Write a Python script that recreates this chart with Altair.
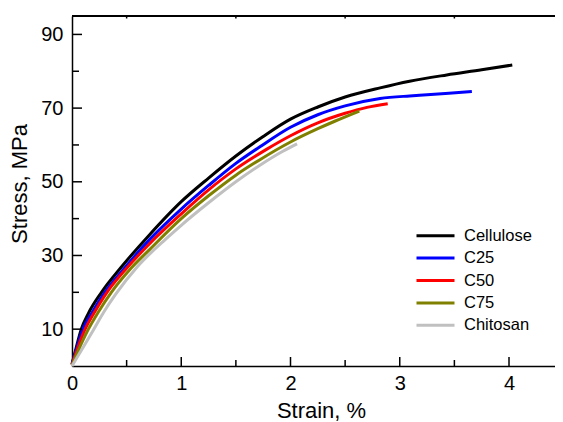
import altair as alt
import pandas as pd

series_names = ["Cellulose", "C25", "C50", "C75", "Chitosan"]
series_colors = ["#000000", "#0000ff", "#ff0000", "#808000", "#c0c0c0"]

cellulose_strain = [0.00, 0.03, 0.085, 0.15, 0.27, 0.45, 0.70, 1.00, 1.25, 1.50, 1.75, 2.00, 2.25, 2.50, 2.82, 3.09, 3.43, 3.75, 4.03]
cellulose_stress = [0.5, 4.0, 10.0, 14.3, 20.0, 26.8, 35.3, 44.6, 51.0, 57.0, 62.3, 67.0, 70.3, 73.0, 75.5, 77.3, 79.0, 80.4, 81.7]

c25_strain = [0.00, 0.025, 0.10, 0.18, 0.30, 0.47, 0.71, 1.00, 1.25, 1.50, 1.72, 2.00, 2.25, 2.50, 2.82, 3.09, 3.25, 3.45, 3.66]
c25_stress = [0.5, 3.0, 10.0, 14.3, 20.0, 26.2, 34.3, 42.6, 49.0, 55.0, 59.5, 64.8, 68.2, 70.6, 72.6, 73.3, 73.6, 74.0, 74.5]

c50_strain = [0.00, 0.03, 0.12, 0.20, 0.32, 0.49, 0.71, 1.00, 1.25, 1.50, 1.78, 2.00, 2.25, 2.50, 2.70, 2.89]
c50_stress = [0.3, 3.0, 10.0, 14.3, 20.0, 26.2, 33.2, 41.3, 47.8, 53.5, 58.8, 62.5, 66.0, 68.6, 70.2, 71.2]

c75_strain = [0.00, 0.04, 0.15, 0.24, 0.36, 0.53, 0.71, 1.00, 1.25, 1.50, 1.72, 2.00, 2.25, 2.41, 2.63]
c75_stress = [0.2, 3.0, 10.0, 14.6, 20.0, 26.2, 31.6, 40.0, 46.2, 51.8, 56.0, 60.8, 64.4, 66.5, 69.2]

chitosan_strain = [0.00, 0.05, 0.20, 0.29, 0.40, 0.60, 0.86, 1.00, 1.25, 1.50, 1.72, 1.93, 2.06]
chitosan_stress = [0.0, 2.5, 10.0, 14.6, 19.5, 27.0, 34.5, 38.2, 44.3, 50.0, 54.5, 58.3, 60.3]

x_major = [0, 1, 2, 3, 4]
x_minor = [0.5, 1.5, 2.5, 3.5]
y_major = [10, 30, 50, 70, 90]
y_minor = [20, 40, 60, 80]

series_data = [
    ("Cellulose", cellulose_strain, cellulose_stress),
    ("C25", c25_strain, c25_stress),
    ("C50", c50_strain, c50_stress),
    ("C75", c75_strain, c75_stress),
    ("Chitosan", chitosan_strain, chitosan_stress),
]
rows = []
for name, xs, ys in series_data:
    for i, (x, y) in enumerate(zip(xs, ys)):
        rows.append({"series": name, "strain": x, "stress": y, "idx": i})
df = pd.DataFrame(rows)

W, H = 483, 350
FONT = "Liberation Sans"
xscale = alt.Scale(domain=[0, 4.421], nice=False, zero=False)
yscale = alt.Scale(domain=[0, 95], nice=False, zero=False)

x_axis = alt.Axis(values=x_major, title="Strain, %", labelPadding=7.5, labelFlush=False,
                  titleY=51, titleBaseline="alphabetic", titleX=249)
y_axis = alt.Axis(values=y_major, title="Stress, MPa", labelPadding=9, labelFlush=False,
                  titleAngle=270, titleX=-45.5, titleY=167.5,
                  titleBaseline="alphabetic", titleAlign="center")

lines = alt.Chart(df).mark_line(strokeWidth=3, interpolate="monotone").encode(
    x=alt.X("strain:Q", scale=xscale, axis=x_axis),
    y=alt.Y("stress:Q", scale=yscale, axis=y_axis),
    color=alt.Color("series:N",
                    scale=alt.Scale(domain=series_names, range=series_colors),
                    legend=alt.Legend(title=None, orient="none", legendX=343, legendY=211.7,
                                      symbolType="stroke", symbolSize=1444,
                                      symbolStrokeWidth=3, clipHeight=16,
                                      rowPadding=5.4, labelFontSize=16.5,
                                      labelFont=FONT, labelColor="black",
                                      labelOffset=8, padding=0)),
    detail="series:N",
    order="idx:Q",
)

ymaj_df = pd.DataFrame({"stress": y_major})
ymin_df = pd.DataFrame({"stress": y_minor})
xmaj_df = pd.DataFrame({"strain": x_major[1:]})
xmin_df = pd.DataFrame({"strain": x_minor})

ymaj = alt.Chart(ymaj_df).mark_rule(color="black", strokeWidth=1.5).encode(
    y=alt.Y("stress:Q", scale=yscale, axis=y_axis), x=alt.value(0), x2=alt.value(10))
ymin = alt.Chart(ymin_df).mark_rule(color="black", strokeWidth=1.5).encode(
    y=alt.Y("stress:Q", scale=yscale, axis=y_axis), x=alt.value(0), x2=alt.value(7))
xmaj = alt.Chart(xmaj_df).mark_rule(color="black", strokeWidth=1.5).encode(
    x=alt.X("strain:Q", scale=xscale, axis=x_axis), y=alt.value(H), y2=alt.value(H - 9))
xmin = alt.Chart(xmin_df).mark_rule(color="black", strokeWidth=1.5).encode(
    x=alt.X("strain:Q", scale=xscale, axis=x_axis), y=alt.value(H), y2=alt.value(H - 6))
xtop = alt.Chart(xmin_df).mark_rule(color="black", strokeWidth=1.5).encode(
    x=alt.X("strain:Q", scale=xscale, axis=x_axis), y=alt.value(0), y2=alt.value(2.5))
topline = alt.Chart(ymaj_df).mark_rule(color="black", strokeWidth=1.5).encode(
    x=alt.value(0), x2=alt.value(W), y=alt.value(0))

chart = alt.layer(lines, ymaj, ymin, xmaj, xmin, xtop, topline).properties(
    width=W, height=H,
    autosize=alt.AutoSizeParams(type="none"),
    padding={"left": 64, "top": 8, "right": 0, "bottom": 56},
).configure_view(stroke=None).configure_axis(
    grid=False, ticks=False, domainColor="black", domainWidth=1.5,
    labelFont=FONT, labelFontSize=20, labelColor="black",
    titleFont=FONT, titleFontSize=22, titleColor="black", titleFontWeight="normal",
)

chart.save("out.html", embed_options={"renderer": "svg", "actions": False})
